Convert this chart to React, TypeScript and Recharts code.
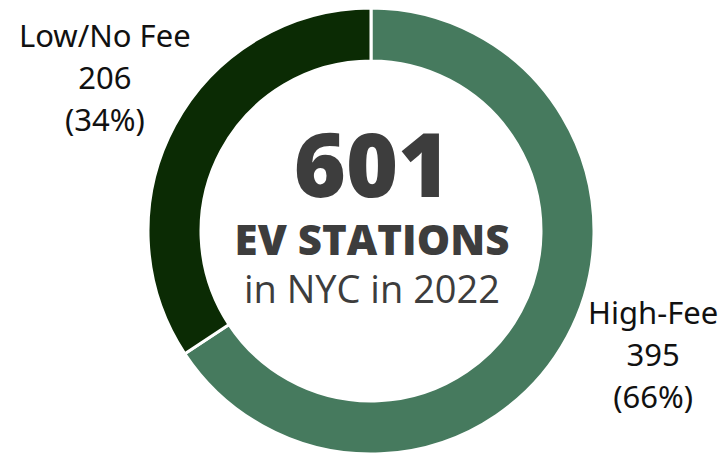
import React from "react";
import { PieChart, Pie, Cell } from "recharts";

const categories = ["High-Fee", "Low/No Fee"];
const values = [395, 206];
const percents = ["66%", "34%"];
const colors = ["#467a5e", "#0b2b04"];
const totalLabel = "601";
const titleLine = "EV STATIONS";
const subLine = "in NYC in 2022";

const data = categories.map((name, i) => ({ name, value: values[i], pct: percents[i] }));

const RAD = Math.PI / 180;
const labelShift = [
  { dx: 11, dy: -22 },
  { dx: 5, dy: -7 },
];

const Center = ({ cx, cy }: { cx: number; cy: number }) => (
  <g fontFamily="'Open Sans', sans-serif">
    <text x={cx + 1} y={cy - 34} fontSize={89} fontWeight={800} fill="#3d3d3d" textAnchor="middle">
      {totalLabel}
    </text>
    <text x={cx + 1} y={cy + 24} fontSize={42} fontWeight={800} fill="#3d3d3d" textAnchor="middle">
      {titleLine}
    </text>
    <text x={cx + 1} y={cy + 72} fontSize={38} fontWeight={400} fill="#3d3d3d" textAnchor="middle">
      {subLine}
    </text>
  </g>
);

const renderLabel = (props: any) => {
  const { cx, cy, midAngle, index, payload } = props;
  const r = 308;
  const x = cx + r * Math.cos(-midAngle * RAD) + labelShift[index].dx;
  const y = cy + r * Math.sin(-midAngle * RAD) + labelShift[index].dy;
  const lines = [payload.name, String(payload.value), `(${payload.pct})`];
  return (
    <g key={`lbl-${index}`}>
      <text
        x={x}
        y={y}
        textAnchor="middle"
        fill="#111"
        fontFamily="'Noto Sans', sans-serif"
        fontSize={31}
      >
        {lines.map((l, i) => (
          <tspan key={i} x={x} y={y + (i - 1) * 42 + 11}>
            {l}
          </tspan>
        ))}
      </text>
      {index === 0 ? <Center cx={cx} cy={cy} /> : null}
    </g>
  );
};

export default function App() {
  return (
    <div style={{ position: "absolute", left: 0, top: 0, width: 723, height: 456, background: "#fff" }}>
      <PieChart width={723} height={456} margin={{ top: 0, right: 0, bottom: 0, left: 0 }}>
        <Pie
          data={data}
          dataKey="value"
          nameKey="name"
          cx={371}
          cy={231}
          innerRadius={170}
          outerRadius={223}
          startAngle={90}
          endAngle={-270}
          stroke="#ffffff"
          strokeWidth={3}
          isAnimationActive={false}
          label={renderLabel}
          labelLine={false}
        >
          {data.map((d, i) => (
            <Cell key={d.name} fill={colors[i]} />
          ))}
        </Pie>
      </PieChart>
    </div>
  );
}
